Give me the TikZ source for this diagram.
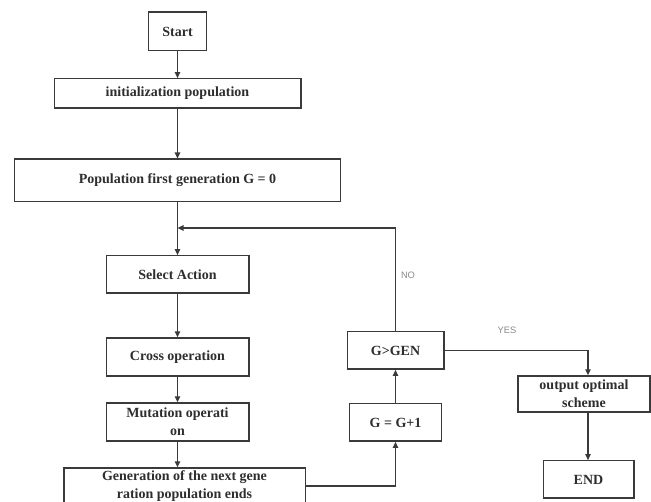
\documentclass[tikz,border=0pt]{standalone}
\usepackage{fontspec}
\setmainfont{Liberation Serif}
\newfontfamily\labelfont{Liberation Sans}
\usetikzlibrary{arrows.meta, positioning, calc}
\definecolor{lineGray}{HTML}{3A3A3A}
\definecolor{textGray}{HTML}{2E2E2E}
\definecolor{labelGray}{HTML}{8A8A8A}
\tikzset{
    stepbox/.style={draw=lineGray, line width=1pt, fill=white, align=center,
        text=textGray, font=\fontsize{10.5}{13.5}\selectfont\bfseries, inner sep=1pt},
    flow/.style={draw=lineGray, line width=1pt, -{Triangle[length=4.5pt, width=4pt]}},
    plainline/.style={draw=lineGray, line width=1pt},
    answer/.style={text=labelGray, font=\labelfont\fontsize{7}{8}\selectfont}
}

\begin{document}
\begin{tikzpicture}[x=0.75pt, y=-0.75pt]
    \useasboundingbox (0,0) rectangle (651,502);

    % Main column
    \node[stepbox, minimum width=43.5pt, minimum height=29pt] (start) at (177.5,31.5) {Start};
    \node[stepbox, minimum width=185pt, minimum height=22pt] (init) at (177.5,93.5) {initialization population};
    \node[stepbox, minimum width=244.5pt, minimum height=32pt] (popfirst) at (177.5,180.5) {Population first generation G = 0};
    \node[stepbox, minimum width=107pt, minimum height=28pt] (select) at (177.5,274.5) {Select Action};
    \node[stepbox, minimum width=107pt, minimum height=28.5pt] (cross) at (177.5,357) {Cross operation};
    \node[stepbox, minimum width=107pt, minimum height=28.5pt] (mutate) at (177.5,422) {Mutation operati\\on};
    \node[stepbox, minimum width=181pt, minimum height=27pt] (nextgen) at (184.5,486) {Generation of the next gene\\ration population ends};

    % Loop column
    \node[stepbox, minimum width=69pt, minimum height=28pt] (gplus) at (395.5,422.5) {G = G+1};
    \node[stepbox, minimum width=72.5pt, minimum height=28pt] (ggen) at (395.5,350.5) {G>GEN};

    % Output column
    \node[stepbox, minimum width=99pt, minimum height=27pt] (output) at (584,394) {output optimal\\scheme};
    \node[stepbox, minimum width=68pt, minimum height=28pt] (end) at (588.5,479.5) {END};

    \coordinate (loopin) at (177.5,228);
    \coordinate (yesturn) at (588,0);

    % Connectors
    \draw[flow] (start) -- (init);
    \draw[flow] (init) -- (popfirst);
    \draw[flow] (popfirst) -- (select);
    \draw[flow] (select) -- (cross);
    \draw[flow] (cross) -- (mutate);
    \draw[flow] (mutate.south) -- (mutate.south |- nextgen.north);
    \draw[flow] (nextgen.east) -| (gplus.south);
    \draw[flow] (gplus) -- (ggen);
    \draw[flow] (ggen.north) |- (loopin);
    \draw[flow] (ggen.east) -| (yesturn |- output.north);
    \draw[flow] (yesturn |- output.south) -- (yesturn |- end.north);

    % Branch labels
    \node[answer] (nolabel) at (408,275) {NO};
    \node[answer] (yeslabel) at (507,330) {YES};
\end{tikzpicture}
\end{document}
